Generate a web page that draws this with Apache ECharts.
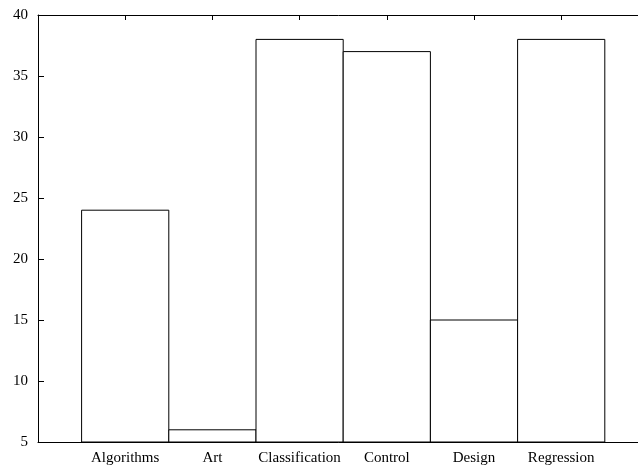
<!DOCTYPE html>
<html>
<head>
<meta charset="utf-8">
<script src="https://cdn.jsdelivr.net/npm/echarts@6/dist/echarts.min.js"></script>
<style>
  html, body { margin: 0; padding: 0; background: #fff; }
  #chart { width: 638px; height: 468px; }
</style>
</head>
<body>
<div id="chart"></div>
<script>
// Number of items per topic
const categories = ['Algorithms', 'Art', 'Classification', 'Control', 'Design', 'Regression'];
const counts = [24, 6, 38, 37, 15, 38];
const yTicks = [5, 10, 15, 20, 25, 30, 35, 40];

const FONT = 'Liberation Serif, Times New Roman, serif';
const Y_MIN = yTicks[0];
const Y_MAX = yTicks[yTicks.length - 1];
// The x range runs past the right edge of the canvas, so the frame is cut off there
const X_MIN = -1;
const X_MAX = 7;

const chart = echarts.init(document.getElementById('chart'), null, { renderer: 'canvas' });

const tickLabel = v => (Number.isInteger(v) && v >= 0 && v < categories.length) ? categories[v] : '';

const commonX = {
  type: 'value',
  min: X_MIN,
  max: X_MAX,
  interval: 1,
  splitLine: { show: false },
  axisLine: { show: true, onZero: false, lineStyle: { color: '#000', width: 1 } },
  axisTick: { show: true, inside: true, length: 5, lineStyle: { color: '#000' } }
};

chart.setOption({
  animation: false,
  backgroundColor: '#fff',
  grid: {
    left: 38, top: 15, width: 697.6, height: 427,
    containLabel: false,
    outerBoundsMode: 'none'
  },
  xAxis: [
    Object.assign({}, commonX, {
      position: 'bottom',
      axisLabel: {
        show: true,
        margin: 9,
        color: '#000',
        fontFamily: FONT,
        fontSize: 15,
        formatter: tickLabel
      }
    }),
    Object.assign({}, commonX, {
      position: 'top',
      axisLabel: { show: false }
    })
  ],
  yAxis: {
    type: 'value',
    min: Y_MIN,
    max: Y_MAX,
    interval: 5,
    splitLine: { show: false },
    axisLine: { show: true, onZero: false, lineStyle: { color: '#000', width: 1 } },
    axisTick: { show: true, inside: true, length: 6, lineStyle: { color: '#000' } },
    axisLabel: {
      margin: 10,
      color: '#000',
      fontFamily: FONT,
      fontSize: 15
    }
  },
  series: [{
    type: 'custom',
    xAxisIndex: 0,
    clip: false,
    data: counts.map((v, i) => [i, v]),
    renderItem: function (params, api) {
      const i = api.value(0);
      const v = api.value(1);
      const topLeft = api.coord([i - 0.5, v]);
      const bottomRight = api.coord([i + 0.5, Y_MIN]);
      return {
        type: 'rect',
        shape: {
          x: topLeft[0],
          y: topLeft[1],
          width: bottomRight[0] - topLeft[0],
          height: bottomRight[1] - topLeft[1]
        },
        style: { fill: '#fff', stroke: '#000', lineWidth: 1 }
      };
    }
  }]
});
</script>
</body>
</html>
